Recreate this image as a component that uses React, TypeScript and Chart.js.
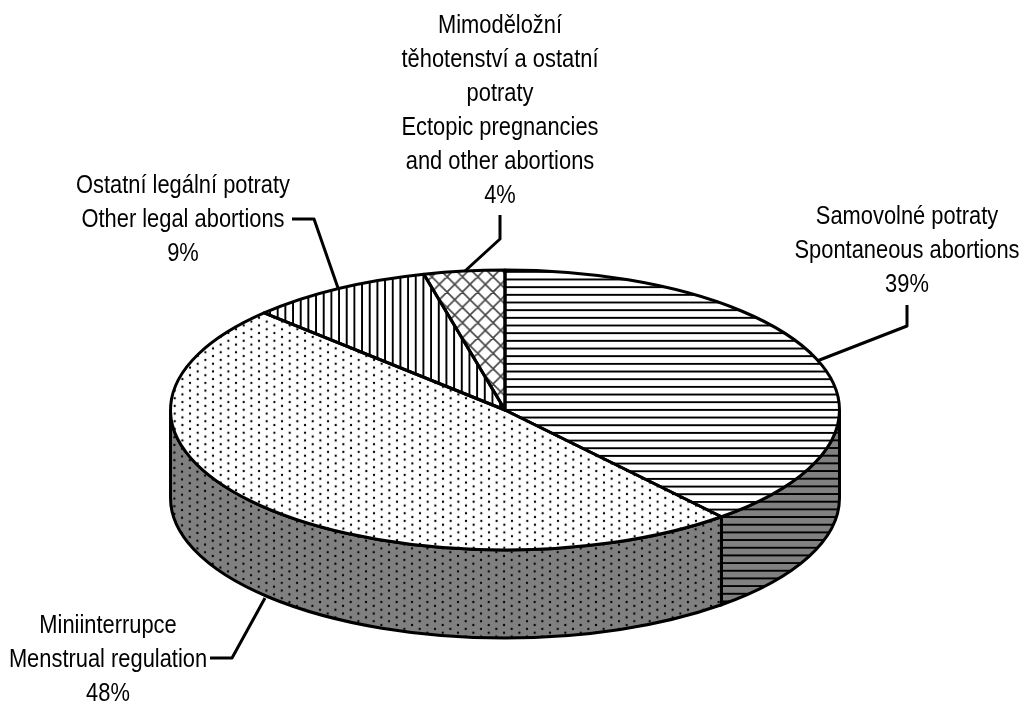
import React, { useEffect, useRef } from "react";
import { Chart, registerables } from "chart.js";

Chart.register(...registerables);

const sliceNames = [
  "Samovolné potraty / Spontaneous abortions",
  "Miniinterrupce / Menstrual regulation",
  "Ostatní legální potraty / Other legal abortions",
  "Mimoděložní těhotenství a ostatní potraty / Ectopic pregnancies and other abortions",
];
const sliceValues = [38.8, 48.4, 8.9, 3.9];
const sliceLabelLines = [
  ["Samovolné potraty", "Spontaneous abortions", "39%"],
  ["Miniinterrupce", "Menstrual regulation", "48%"],
  ["Ostatní legální potraty", "Other legal abortions", "9%"],
  ["Mimoděložní", "těhotenství a ostatní", "potraty", "Ectopic pregnancies", "and other abortions", "4%"],
];
const labelCentres = [
  [907, 224],
  [108, 633],
  [183, 193],
  [500, 33],
];
const leaderLines = [
  [[907, 305], [907, 326], [817, 361]],
  [[210, 658], [232, 658], [265, 598]],
  [[292, 219], [314, 219], [338, 288]],
  [[500, 215], [500, 239], [465, 271]],
];

const W = 1024, H = 704;
const CX = 505, CY = 410, RX = 334.5, RY = 140, DEPTH = 88;
const STROKE = 3;
const FONT_SIZE = 25, LINE_H = 34, TEXT_SX = 0.875;
const LINE_K = 7.67 / 8, DOT_K = 15.33 / 16;

function tile(size: number, draw: (c: CanvasRenderingContext2D) => void) {
  const cv = document.createElement("canvas");
  cv.width = size; cv.height = size;
  const c = cv.getContext("2d")!;
  draw(c);
  return cv;
}
const hLines = (bg: string) => (c: CanvasRenderingContext2D) => {
  c.fillStyle = bg; c.fillRect(0, 0, 8, 8);
  c.fillStyle = "#000"; c.fillRect(0, 3, 8, 2);
};
const vLines = (c: CanvasRenderingContext2D) => {
  c.fillStyle = "#fff"; c.fillRect(0, 0, 8, 8);
  c.fillStyle = "#000"; c.fillRect(3, 0, 2, 8);
};
const dots = (bg: string) => (c: CanvasRenderingContext2D) => {
  c.fillStyle = bg; c.fillRect(0, 0, 16, 16);
  c.fillStyle = "#000";
  for (const [x, y] of [[4, 4], [4, 12], [12, 0], [12, 8], [12, 16]]) {
    c.beginPath(); c.arc(x, y, 1.2, 0, Math.PI * 2); c.fill();
  }
};
const hatch = (c: CanvasRenderingContext2D) => {
  c.fillStyle = "#fff"; c.fillRect(0, 0, 16, 16);
  c.strokeStyle = "#444"; c.lineWidth = 1.7;
  c.beginPath();
  for (let i = -16; i <= 32; i += 16) {
    c.moveTo(i, 0); c.lineTo(i + 16, 16);
    c.moveTo(i + 16, 0); c.lineTo(i, 16);
  }
  c.stroke();
};

export default function App() {
  const ref = useRef<HTMLCanvasElement>(null);
  useEffect(() => {
    const canvas = ref.current!;
    const ctx = canvas.getContext("2d")!;
    const pat = (cv: HTMLCanvasElement) => ctx.createPattern(cv, "repeat")!;
    const topPatterns = [
      { p: pat(tile(8, hLines("#fff"))), k: LINE_K, tx: 0, ty: -0.5 },
      { p: pat(tile(16, dots("#fff"))), k: DOT_K, tx: 9.9, ty: -0.37 },
      { p: pat(tile(8, vLines)), k: LINE_K, tx: -2.3, ty: 0 },
      { p: pat(tile(16, hatch)), k: DOT_K, tx: 10.1, ty: 8.4 },
    ];
    const sidePatterns = [
      { p: pat(tile(8, hLines("#808080"))), k: LINE_K, tx: 0, ty: -0.7 },
      { p: pat(tile(16, dots("#808080"))), k: DOT_K, tx: 9.6, ty: 0.3 },
    ];

    const pie3d = {
      id: "pie3d",
      beforeDatasetsDraw(chart: any) {
        const c = chart.ctx;
        const arcs = chart.getDatasetMeta(0).data;
        const a0 = arcs[0];
        // Side wall of the visible (front) half, from the chart's own arc angles
        c.save();
        arcs.forEach((arc: any, i: number) => {
          const s = Math.max(arc.startAngle, 0);
          const e = Math.min(arc.endAngle, Math.PI);
          if (e <= s || !sidePatterns[i]) return;
          c.beginPath();
          c.ellipse(CX, CY, RX, RY, 0, s, e);
          c.ellipse(CX, CY + DEPTH, RX, RY, 0, e, s, true);
          c.closePath();
          const sp = sidePatterns[i];
          sp.p.setTransform(new DOMMatrix().translate(sp.tx, sp.ty).scale(sp.k));
          c.fillStyle = sp.p;
          c.fill();
          c.strokeStyle = "#000";
          c.lineWidth = STROKE;
          c.stroke();
        });
        c.restore();
        // Map the library's circular pie onto the tilted ellipse
        c.save();
        c.translate(CX, CY);
        c.scale(RX / a0.outerRadius, RY / a0.outerRadius);
        c.translate(-a0.x, -a0.y);
        const inv = c.getTransform().inverse();
        topPatterns.forEach((t) => t.p.setTransform(inv.translate(t.tx, t.ty).scale(t.k)));
      },
      afterDatasetsDraw(chart: any) {
        const c = chart.ctx;
        c.restore();
        const arcs = chart.getDatasetMeta(0).data;
        c.save();
        c.strokeStyle = "#000";
        c.lineWidth = STROKE;
        c.lineJoin = "round";
        arcs.forEach((arc: any) => {
          c.beginPath();
          c.moveTo(CX, CY);
          c.ellipse(CX, CY, RX, RY, 0, arc.startAngle, arc.endAngle);
          c.closePath();
          c.stroke();
        });
        // Leader lines
        leaderLines.forEach((pts) => {
          c.beginPath();
          pts.forEach(([x, y], j) => (j ? c.lineTo(x, y) : c.moveTo(x, y)));
          c.stroke();
        });
        // Labels
        c.fillStyle = "#000";
        c.font = `${FONT_SIZE}px "Liberation Sans", Arial, sans-serif`;
        c.textAlign = "center";
        c.textBaseline = "alphabetic";
        sliceLabelLines.forEach((lines, i) => {
          const [x, y] = labelCentres[i];
          lines.forEach((line, j) => {
            c.save();
            c.translate(x, y + j * LINE_H);
            c.scale(TEXT_SX, 1);
            c.fillText(line, 0, 0);
            c.restore();
          });
        });
        c.restore();
      },
    };

    const chart = new Chart(canvas, {
      type: "pie",
      data: {
        labels: sliceNames,
        datasets: [{
          data: sliceValues,
          backgroundColor: topPatterns.map((t) => t.p),
          borderWidth: 0,
        }],
      },
      options: {
        responsive: false,
        animation: false,
        plugins: { legend: { display: false }, tooltip: { enabled: false }, title: { display: false } },
      },
      plugins: [pie3d],
    } as any);
    return () => chart.destroy();
  }, []);
  return (
    <div style={{ position: "fixed", left: 0, top: 0, width: W, height: H, background: "#fff" }}>
      <canvas ref={ref} width={W} height={H} style={{ display: "block", width: W, height: H, filter: "blur(0.35px)" }} />
    </div>
  );
}
